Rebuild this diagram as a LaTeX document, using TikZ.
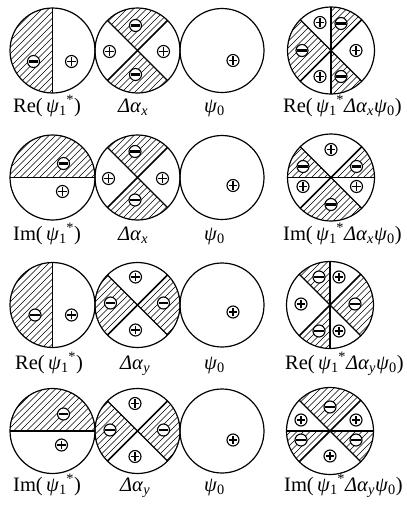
\documentclass[tikz,border=0pt]{standalone}
\usepackage{fontspec}
\setmainfont{Liberation Serif}
\newcommand\hatchreg[2]{%
  \begin{scope}\clip (0,0) circle (#1); \clip #2;
    \foreach \k in {-16,...,16}{\draw[hatchline] ({\k*6.5-60},-60) -- ++(120,120);}
  \end{scope}}
\newcommand\sbsp[2]{\textsubscript{#1}\kern-0.5pt\textsuperscript{#2}}
\newcommand\gk[1]{\textit{#1}}
\tikzset{
  hatchline/.style={line width=0.6pt},
  outline/.style={line width=1.2pt},
  divline/.style={line width=1.1pt},
  dblline/.style={line width=1.7pt},
  signring/.style={line width=1.1pt, fill=white},
  pplus/.pic={\draw[signring] (0,0) circle (6);
    \draw[line width=1.5pt] (-4.4,0)--(4.4,0) (0,-4.4)--(0,4.4);},
  pminus/.pic={\draw[signring] (0,0) circle (6);
    \draw[line width=2.4pt] (-4.9,0)--(4.9,0);},
  lab/.style={anchor=base west, inner sep=0pt, font=\fontsize{20.5}{25}\selectfont},
}
\begin{document}
\begin{tikzpicture}[x=1pt,y=1pt,line join=round]
\useasboundingbox (0,0) rectangle (407,-509);
% ---------------- Row 1 ----------------
\begin{scope}[shift={(52.5,-50.5)}]
  \hatchreg{42.5}{(0,-60) rectangle (-60,60)}
  \draw[divline] (0,-42.5) -- (0,42.5);
  \draw[outline] (0,0) circle (42.5);
  \pic at (-19,-11) {pminus}; \pic at (19,-11) {pplus};
\end{scope}
\begin{scope}[shift={(137.5,-50.5)}]
  \hatchreg{42.5}{(0,0)--(-60,60)--(60,60)--cycle}
  \hatchreg{42.5}{(0,0)--(-60,-60)--(60,-60)--cycle}
  \draw[divline] (135:42.5) -- (-45:42.5);
  \draw[dblline] (225:42.5) -- (45:42.5);
  \draw[outline] (0,0) circle (42.5);
  \pic at (-2,25) {pminus}; \pic at (-2,-24) {pminus};
  \pic at (-28,-1) {pplus}; \pic at (26,-1) {pplus};
\end{scope}
\begin{scope}[shift={(222,-50.5)}]
  \draw[outline] (0,0) circle (42);
  \pic at (11,-10) {pplus};
\end{scope}
\begin{scope}[shift={(331,-50.5)}]
  \hatchreg{43.5}{(0,0)--(0,60)--(60,60)--cycle}
  \hatchreg{43.5}{(0,0)--(-60,60)--(-60,-60)--cycle}
  \hatchreg{43.5}{(0,0)--(0,-60)--(60,-60)--cycle}
  \draw[divline] (0,-43.5) -- (0,43.5);
  \draw[divline] (135:43.5) -- (-45:43.5);
  \draw[dblline] (225:43.5) -- (45:43.5);
  \draw[outline] (0,0) circle (43.5);
  \pic at (-11,28) {pplus}; \pic at (10,27) {pminus};
  \pic at (-29,0) {pminus}; \pic at (25,0) {pplus};
  \pic at (-11,-26) {pplus}; \pic at (10,-26) {pminus};
\end{scope}
\node[lab] (l11) at (13,-112) {Re(\,\gk{ψ}\sbsp{1}{*})};
\node[lab] (l12) at (118,-112) {\gk{Δα}\textsubscript{\gk{x}}};
\node[lab] (l13) at (204,-112) {\gk{ψ}\textsubscript{0}};
\node[lab] (l14) at (283,-112) {Re(\,\gk{ψ}\sbsp{1}{*}\gk{Δα}\textsubscript{\gk{x}}\gk{ψ}\textsubscript{0})};
% ---------------- Row 2 ----------------
\begin{scope}[shift={(52.5,-177.5)}]
  \hatchreg{42.5}{(-60,0) rectangle (60,60)}
  \draw[divline] (-42.5,0) -- (42.5,0);
  \draw[outline] (0,0) circle (42.5);
  \pic at (11,14) {pminus}; \pic at (10,-14) {pplus};
\end{scope}
\begin{scope}[shift={(137.5,-177.5)}]
  \hatchreg{42.5}{(0,0)--(-60,60)--(60,60)--cycle}
  \hatchreg{42.5}{(0,0)--(-60,-60)--(60,-60)--cycle}
  \draw[divline] (135:42.5) -- (-45:42.5);
  \draw[dblline] (225:42.5) -- (45:42.5);
  \draw[outline] (0,0) circle (42.5);
  \pic at (-2.5,26) {pminus}; \pic at (-2.5,-22.5) {pminus};
  \pic at (-29,-1) {pplus}; \pic at (25,-1) {pplus};
\end{scope}
\begin{scope}[shift={(222,-177.5)}]
  \draw[outline] (0,0) circle (42);
  \pic at (11,-8) {pplus};
\end{scope}
\begin{scope}[shift={(331,-177.5)}]
  \hatchreg{43.5}{(0,0)--(-60,60)--(-60,0)--cycle}
  \hatchreg{43.5}{(0,0)--(60,60)--(60,0)--cycle}
  \hatchreg{43.5}{(0,0)--(-60,-60)--(60,-60)--cycle}
  \draw[divline] (-43.5,0) -- (43.5,0);
  \draw[divline] (135:43.5) -- (-45:43.5);
  \draw[dblline] (225:43.5) -- (45:43.5);
  \draw[outline] (0,0) circle (43.5);
  \pic at (0,28) {pplus};
  \pic at (-28,11) {pminus}; \pic at (25.5,11) {pminus};
  \pic at (-28,-9) {pplus}; \pic at (25.5,-9) {pplus};
  \pic at (0,-27) {pminus};
\end{scope}
\node[lab] (l21) at (13,-240.5) {Im(\,\gk{ψ}\sbsp{1}{*})};
\node[lab] (l22) at (118,-240.5) {\gk{Δα}\textsubscript{\gk{x}}};
\node[lab] (l23) at (204,-240.5) {\gk{ψ}\textsubscript{0}};
\node[lab] (l24) at (283,-240.5) {Im(\,\gk{ψ}\sbsp{1}{*}\gk{Δα}\textsubscript{\gk{x}}\gk{ψ}\textsubscript{0})};
% ---------------- Row 3 ----------------
\begin{scope}[shift={(52.5,-305)}]
  \hatchreg{42.5}{(0,-60) rectangle (-60,60)}
  \draw[divline] (0,-42.5) -- (0,42.5);
  \draw[outline] (0,0) circle (42.5);
  \pic at (-17.5,-10) {pminus}; \pic at (19,-10) {pplus};
\end{scope}
\begin{scope}[shift={(137.5,-305)}]
  \hatchreg{42.5}{(0,0)--(-60,60)--(-60,-60)--cycle}
  \hatchreg{42.5}{(0,0)--(60,60)--(60,-60)--cycle}
  \draw[divline] (135:42.5) -- (-45:42.5);
  \draw[dblline] (225:42.5) -- (45:42.5);
  \draw[outline] (0,0) circle (42.5);
  \pic at (-2,28) {pplus}; \pic at (-2,-25) {pplus};
  \pic at (-27,2) {pminus}; \pic at (26,2) {pminus};
\end{scope}
\begin{scope}[shift={(222,-305)}]
  \draw[outline] (0,0) circle (42);
  \pic at (11,-7) {pplus};
\end{scope}
\begin{scope}[shift={(330,-305)}]
  \hatchreg{43.5}{(0,0)--(-60,60)--(0,60)--cycle}
  \hatchreg{43.5}{(0,0)--(60,60)--(60,-60)--cycle}
  \hatchreg{43.5}{(0,0)--(-60,-60)--(0,-60)--cycle}
  \draw[divline] (0,-43.5) -- (0,43.5);
  \draw[divline] (135:43.5) -- (-45:43.5);
  \draw[dblline] (225:43.5) -- (45:43.5);
  \draw[outline] (0,0) circle (43.5);
  \pic at (-11,28) {pminus}; \pic at (9,28) {pplus};
  \pic at (-29,1) {pplus}; \pic at (25,1) {pminus};
  \pic at (-11,-26) {pminus}; \pic at (9,-26) {pplus};
\end{scope}
\node[lab] (l31) at (15,-369) {Re(\,\gk{ψ}\sbsp{1}{*})};
\node[lab] (l32) at (120,-369) {\gk{Δα}\textsubscript{\gk{y}}};
\node[lab] (l33) at (204,-369) {\gk{ψ}\textsubscript{0}};
\node[lab] (l34) at (285,-369) {Re(\,\gk{ψ}\sbsp{1}{*}\gk{Δα}\textsubscript{\gk{y}}\gk{ψ}\textsubscript{0})};
% ---------------- Row 4 ----------------
\begin{scope}[shift={(52.5,-431)}]
  \hatchreg{42.5}{(-60,0) rectangle (60,60)}
  \draw[divline] (-42.5,0) -- (42.5,0);
  \draw[outline] (0,0) circle (42.5);
  \pic at (11,17) {pminus}; \pic at (9,-14) {pplus};
\end{scope}
\begin{scope}[shift={(137.5,-431)}]
  \hatchreg{42.5}{(0,0)--(-60,60)--(-60,-60)--cycle}
  \hatchreg{42.5}{(0,0)--(60,60)--(60,-60)--cycle}
  \draw[divline] (135:42.5) -- (-45:42.5);
  \draw[dblline] (225:42.5) -- (45:42.5);
  \draw[outline] (0,0) circle (42.5);
  \pic at (-2.5,27.5) {pplus}; \pic at (-2.5,-25.5) {pplus};
  \pic at (-27.5,1) {pminus}; \pic at (26,1) {pminus};
\end{scope}
\begin{scope}[shift={(222,-431)}]
  \draw[outline] (0,0) circle (42);
  \pic at (11,-9) {pplus};
\end{scope}
\begin{scope}[shift={(330,-431)}]
  \hatchreg{43.5}{(0,0)--(-60,60)--(60,60)--cycle}
  \hatchreg{43.5}{(0,0)--(-60,0)--(-60,-60)--cycle}
  \hatchreg{43.5}{(0,0)--(60,0)--(60,-60)--cycle}
  \draw[divline] (-43.5,0) -- (43.5,0);
  \draw[divline] (135:43.5) -- (-45:43.5);
  \draw[dblline] (225:43.5) -- (45:43.5);
  \draw[outline] (0,0) circle (43.5);
  \pic at (0,24) {pminus};
  \pic at (-29,11) {pplus}; \pic at (26,11) {pplus};
  \pic at (-29,-9) {pminus}; \pic at (26,-9) {pminus};
  \pic at (0,-25) {pplus};
\end{scope}
\node[lab] (l41) at (13,-491) {Im(\,\gk{ψ}\sbsp{1}{*})};
\node[lab] (l42) at (120,-491) {\gk{Δα}\textsubscript{\gk{y}}};
\node[lab] (l43) at (204,-491) {\gk{ψ}\textsubscript{0}};
\node[lab] (l44) at (284,-491) {Im(\,\gk{ψ}\sbsp{1}{*}\gk{Δα}\textsubscript{\gk{y}}\gk{ψ}\textsubscript{0})};
\end{tikzpicture}
\end{document}
